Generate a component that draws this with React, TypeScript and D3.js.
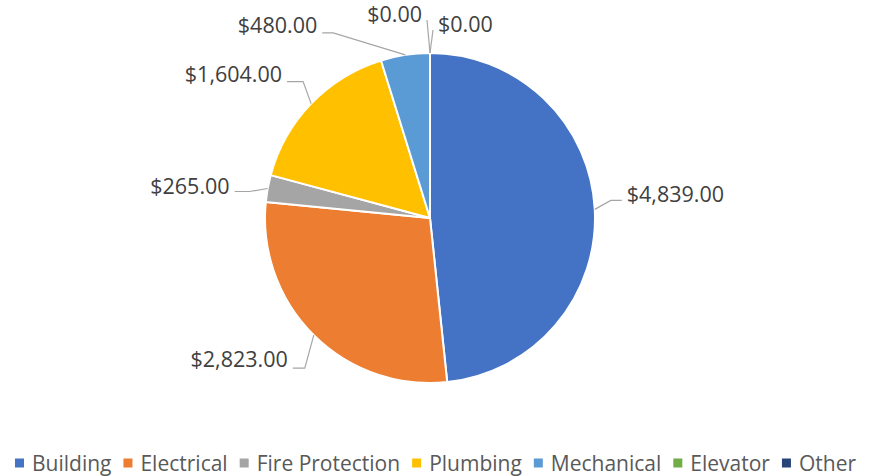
import React from "react";
import * as d3 from "d3";

const categories = ["Building", "Electrical", "Fire Protection", "Plumbing", "Mechanical", "Elevator", "Other"];
const values = [4839, 2823, 265, 1604, 480, 0, 0];
const colors = ["#4472C4", "#ED7D31", "#A5A5A5", "#FFC000", "#5B9BD5", "#70AD47", "#264478"];

// label layout: elbow offset from slice edge point, horizontal leader length, side
const labelLayout = [
  { dx: 16, dy: -9, h: 11, side: 1, ty: -7 },
  { dx: -9, dy: 33, h: 12, side: -1, ty: -10 },
  { dx: -18, dy: 3, h: 15, side: -1, ty: -6 },
  { dx: -8, dy: -22, h: 16, side: -1, ty: -8 },
  { dx: -72, dy: -22, h: 11, side: -1, ty: -8 },
  { dx: -3, dy: -33, h: 0, side: -1, ty: -7 },
  { dx: 3, dy: -23, h: 0, side: 1, ty: -7 },
];

const W = 871;
const H = 476;
const cx = 430;
const cy = 218;
const R = 165;
const font = "'Open Sans', sans-serif";

function measure(text: string, f: string) {
  const c = document.createElement("canvas").getContext("2d")!;
  c.font = f;
  return c.measureText(text).width;
}

export default function App() {
  const pie = d3.pie<number>().sort(null).value((d) => d)(values);
  const arc = d3.arc<d3.PieArcDatum<number>>().innerRadius(0).outerRadius(R);
  const fmt = (v: number) => "$" + d3.format(",.2f")(v);

  // legend layout
  const legendSize = 21;
  const legendFont = `${legendSize}px ${font}`;
  const marker = 9;
  const gapMT = 8;
  const gapItem = 12;
  const widths = categories.map((c) => measure(c, legendFont));
  const total = widths.reduce((a, w) => a + marker + gapMT + w, 0) + gapItem * (categories.length - 1);
  let lx = W / 2 - total / 2;
  const legendItems = categories.map((c, i) => {
    const x = lx;
    lx += marker + gapMT + widths[i] + gapItem;
    return { c, x, color: colors[i] };
  });
  const ly = 463;

  return (
    <svg width={W} height={H} style={{ position: "absolute", left: 0, top: 0, background: "#fff" }}>
      <g transform={`translate(${cx},${cy})`}>
        {pie.map((p, i) => (
          <path key={i} d={arc(p) || ""} fill={colors[i]} stroke="#fff" strokeWidth={2} strokeLinejoin="round" />
        ))}
      </g>
      {pie.map((p, i) => {
        const mid = (p.startAngle + p.endAngle) / 2;
        const ex = cx + R * Math.sin(mid);
        const ey = cy - R * Math.cos(mid);
        const L = labelLayout[i];
        const bx = ex + L.dx;
        const by = ey + L.dy;
        const hx = bx + L.side * L.h;
        const tx = hx + L.side * 5;
        return (
          <g key={i}>
            <polyline points={`${ex},${ey} ${bx},${by} ${hx},${by}`} fill="none" stroke="#A6A6A6" strokeWidth={1.2} />
            <text
              x={tx}
              y={by + L.ty}
              dominantBaseline="central"
              textAnchor={L.side > 0 ? "start" : "end"}
              fontFamily={font}
              fontSize={21.5}
              fill="#404040"
            >
              {fmt(values[i])}
            </text>
          </g>
        );
      })}
      {legendItems.map((it, i) => (
        <g key={i}>
          <rect x={it.x} y={ly - marker / 2} width={marker} height={marker} fill={it.color} />
          <text x={it.x + marker + gapMT} y={ly} dominantBaseline="central" fontFamily={font} fontSize={legendSize} fill="#595959">
            {it.c}
          </text>
        </g>
      ))}
    </svg>
  );
}
